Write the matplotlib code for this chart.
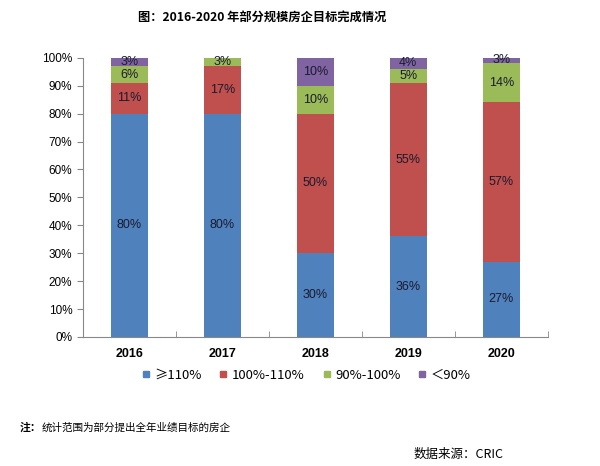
import numpy as np
import matplotlib.pyplot as plt
from matplotlib.lines import Line2D

plt.rcParams['font.family'] = ['Noto Sans CJK SC', 'DejaVu Sans']

years = ["2016", "2017", "2018", "2019", "2020"]
series_names = ["≥110%", "100%-110%", "90%-100%", "＜90%"]
above_110 = [80, 80, 30, 36, 27]
from_100_110 = [11, 17, 50, 55, 57]
from_90_100 = [6, 3, 10, 5, 14]
below_90 = [3, 0, 10, 4, 3]
colors = ["#4F81BD", "#C0504D", "#9BBB59", "#8064A2"]

num_font = ['Liberation Sans', 'DejaVu Sans']

fig = plt.figure(figsize=(6, 4.66), dpi=100)
ax = fig.add_axes([0.138, 0.277, 0.775, 0.599])

x = np.arange(len(years))
bottom = np.zeros(len(years))
for name, vals, c in zip(series_names, [above_110, from_100_110, from_90_100, below_90], colors):
    vals = np.array(vals, dtype=float)
    ax.bar(x, vals, 0.4, bottom=bottom, color=c, label=name)
    for xi, b, v in zip(x, bottom, vals):
        if v > 0:
            yc = min(b + v / 2, 99.3)
            ax.text(xi, yc, f"{int(v)}%", ha="center", va="center",
                    fontsize=9, color="#1a1a2e", family=num_font)
    bottom += vals

ax.set_ylim(0, 100)
ax.set_xlim(-0.5, len(years) - 0.5)
ax.set_yticks(np.arange(0, 101, 10))
ax.set_yticklabels([f"{v}%" for v in range(0, 101, 10)], fontsize=8.5, family=num_font)
ax.set_xticks(x)
ax.set_xticklabels(years, fontsize=9, fontweight="bold", family=num_font)
ax.set_xticks(np.arange(-0.5, len(years)), minor=True)
ax.tick_params(axis="x", which="major", length=0, pad=8)
ax.tick_params(axis="x", which="minor", length=4, direction="in", color="#888888")
ax.tick_params(axis="y", length=4, direction="out", color="#888888")
for s in ["top", "right"]:
    ax.spines[s].set_visible(False)
for s in ["left", "bottom"]:
    ax.spines[s].set_color("#888888")

handles = [Line2D([], [], marker="s", linestyle="", markersize=4.5, color=c) for c in colors]
fig.legend(handles, series_names, loc="center", bbox_to_anchor=(0.51, 0.195), ncol=4,
           frameon=False, fontsize=9.5, handlelength=0.7, handletextpad=0.3, columnspacing=1.3)

fig.text(0.437, 0.963, "图：2016-2020 年部分规模房企目标完成情况", ha="center", va="center",
         fontsize=8.8, fontweight="bold")
fig.text(0.033, 0.082, "注：", ha="left", va="center", fontsize=7.8, fontweight="bold")
fig.text(0.07, 0.082, "统计范围为部分提出全年业绩目标的房企", ha="left", va="center", fontsize=7.6)
fig.text(0.84, 0.025, "数据来源：CRIC", ha="right", va="center", fontsize=9)

fig.savefig("out.png", dpi=100)
